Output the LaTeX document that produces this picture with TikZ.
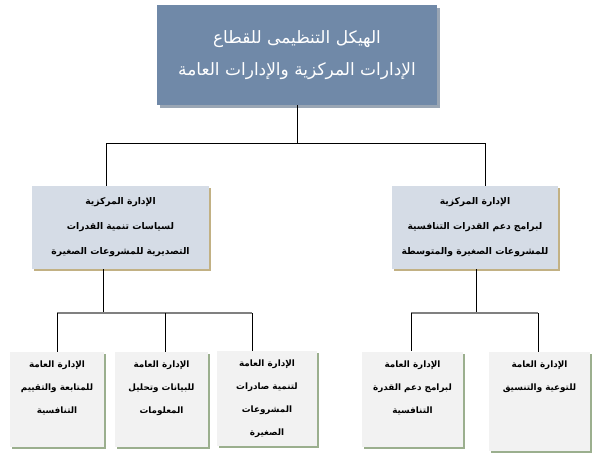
\documentclass[tikz,border=0pt]{standalone}
\usepackage{fontspec}
\usepackage{tikz}
\usetikzlibrary{shadows}
\TeXXeTstate=1
\newfontfamily\arabicfont[Script=Arabic]{DejaVu Sans}
\newcommand\ar[1]{\beginR #1\endR}
\definecolor{topblue}{HTML}{7089A8}
\definecolor{topshade}{HTML}{9AA6B4}
\definecolor{midblue}{HTML}{D5DCE6}
\definecolor{midshade}{HTML}{C2B184}
\definecolor{lowgrey}{HTML}{F2F2F2}
\definecolor{lowshade}{HTML}{9BAF8E}
\definecolor{bargrey}{HTML}{808080}

\begin{document}
\begin{tikzpicture}[x=1pt,y=-1pt,line width=0.8pt]

  \tikzstyle{headbox}=[rectangle,fill=topblue,text=white,align=center,
    minimum width=280pt,minimum height=100pt,
    font=\arabicfont\fontsize{17}{32}\selectfont,
    drop shadow={shadow xshift=3pt,shadow yshift=-3pt,fill=topshade,opacity=1}]
  \tikzstyle{centralbox}=[rectangle,fill=midblue,align=center,minimum height=83pt,
    font=\arabicfont\bfseries\fontsize{9.2}{25}\selectfont,
    drop shadow={shadow xshift=2pt,shadow yshift=-2pt,fill=midshade,opacity=1}]
  \tikzstyle{generalbox}=[rectangle,fill=lowgrey,minimum height=95pt,
    drop shadow={shadow xshift=2pt,shadow yshift=-2pt,fill=lowshade,opacity=1}]
  \tikzstyle{generaltext}=[align=center,anchor=north,inner sep=0pt,
    font=\arabicfont\bfseries\fontsize{8.8}{23}\selectfont]
  \tikzstyle{bar}=[draw=bargrey,line width=2pt]

  \useasboundingbox (0,0) rectangle (599,461);

  % top level
  \node[headbox] (HQ) at (297,55) {\ar{الهيكل التنظيمى للقطاع}\\\ar{الإدارات المركزية والإدارات العامة}};

  % central departments
  \node[centralbox,minimum width=177pt] (CPE) at (120.5,227.5) {\ar{الإدارة المركزية}\\\ar{لسياسات تنمية القدرات}\\\ar{التصديرية للمشروعات الصغيرة}};
  \node[centralbox,minimum width=166pt] (CPC) at (475,227.5) {\ar{الإدارة المركزية}\\\ar{لبرامج دعم القدرات التنافسية}\\\ar{للمشروعات الصغيرة والمتوسطة}};

  % general departments
  \node[generalbox,minimum width=94pt]  (GME) at (57,399.5) {};
  \node[generalbox,minimum width=93pt]  (GDI) at (161.5,399.5) {};
  \node[generalbox,minimum width=100pt] (GEX) at (267,398.5) {};
  \node[generalbox,minimum width=101pt] (GPC) at (412.5,399) {};
  \node[generalbox,minimum width=101pt,minimum height=99pt] (GAC) at (539.5,401.5) {};

  \node[generaltext] (GMEt) at ([yshift=-9pt]GME.north) {\ar{الإدارة العامة}\\\ar{للمتابعة والتقييم}\\\ar{التنافسية}};
  \node[generaltext] (GDIt) at ([yshift=-9pt]GDI.north) {\ar{الإدارة العامة}\\\ar{للبيانات وتحليل}\\\ar{المعلومات}};
  \node[generaltext] (GEXt) at ([yshift=-9pt]GEX.north) {\ar{الإدارة العامة}\\\ar{لتنمية صادرات}\\\ar{المشروعات}\\\ar{الصغيرة}};
  \node[generaltext] (GPCt) at ([yshift=-9pt]GPC.north) {\ar{الإدارة العامة}\\\ar{لبرامج دعم القدرة}\\\ar{التنافسية}};
  \node[generaltext] (GACt) at ([yshift=-9pt]GAC.north) {\ar{الإدارة العامة}\\\ar{للتوعية والتنسيق}};

  % junctions
  \coordinate (J1) at (106,143);  \coordinate (J2) at (485,143);
  \coordinate (J3) at (103,313);  \coordinate (J4) at (476,313);
  \coordinate (K1) at (57,313);   \coordinate (K2) at (165,313);
  \coordinate (K3) at (252,313);  \coordinate (K4) at (411,313);
  \coordinate (K5) at (538,313);

  \draw (HQ.south) -- (HQ.south |- J1);
  \draw (J1) -- (J2);
  \draw (J1) -- (J1 |- CPE.north);
  \draw (J2) -- (J2 |- CPC.north);

  \draw (J3 |- CPE.south) -- (J3);
  \draw (J4 |- CPC.south) -- (J4);
  \draw[bar] (K1) -- (K3);
  \draw[bar] (K4) -- (K5);
  \draw (K1) -- (K1 |- GME.north);
  \draw (K2) -- (K2 |- GDI.north);
  \draw (K3) -- (K3 |- GEX.north);
  \draw (K4) -- (K4 |- GPC.north);
  \draw (K5) -- (K5 |- GAC.north);

\end{tikzpicture}
\end{document}
